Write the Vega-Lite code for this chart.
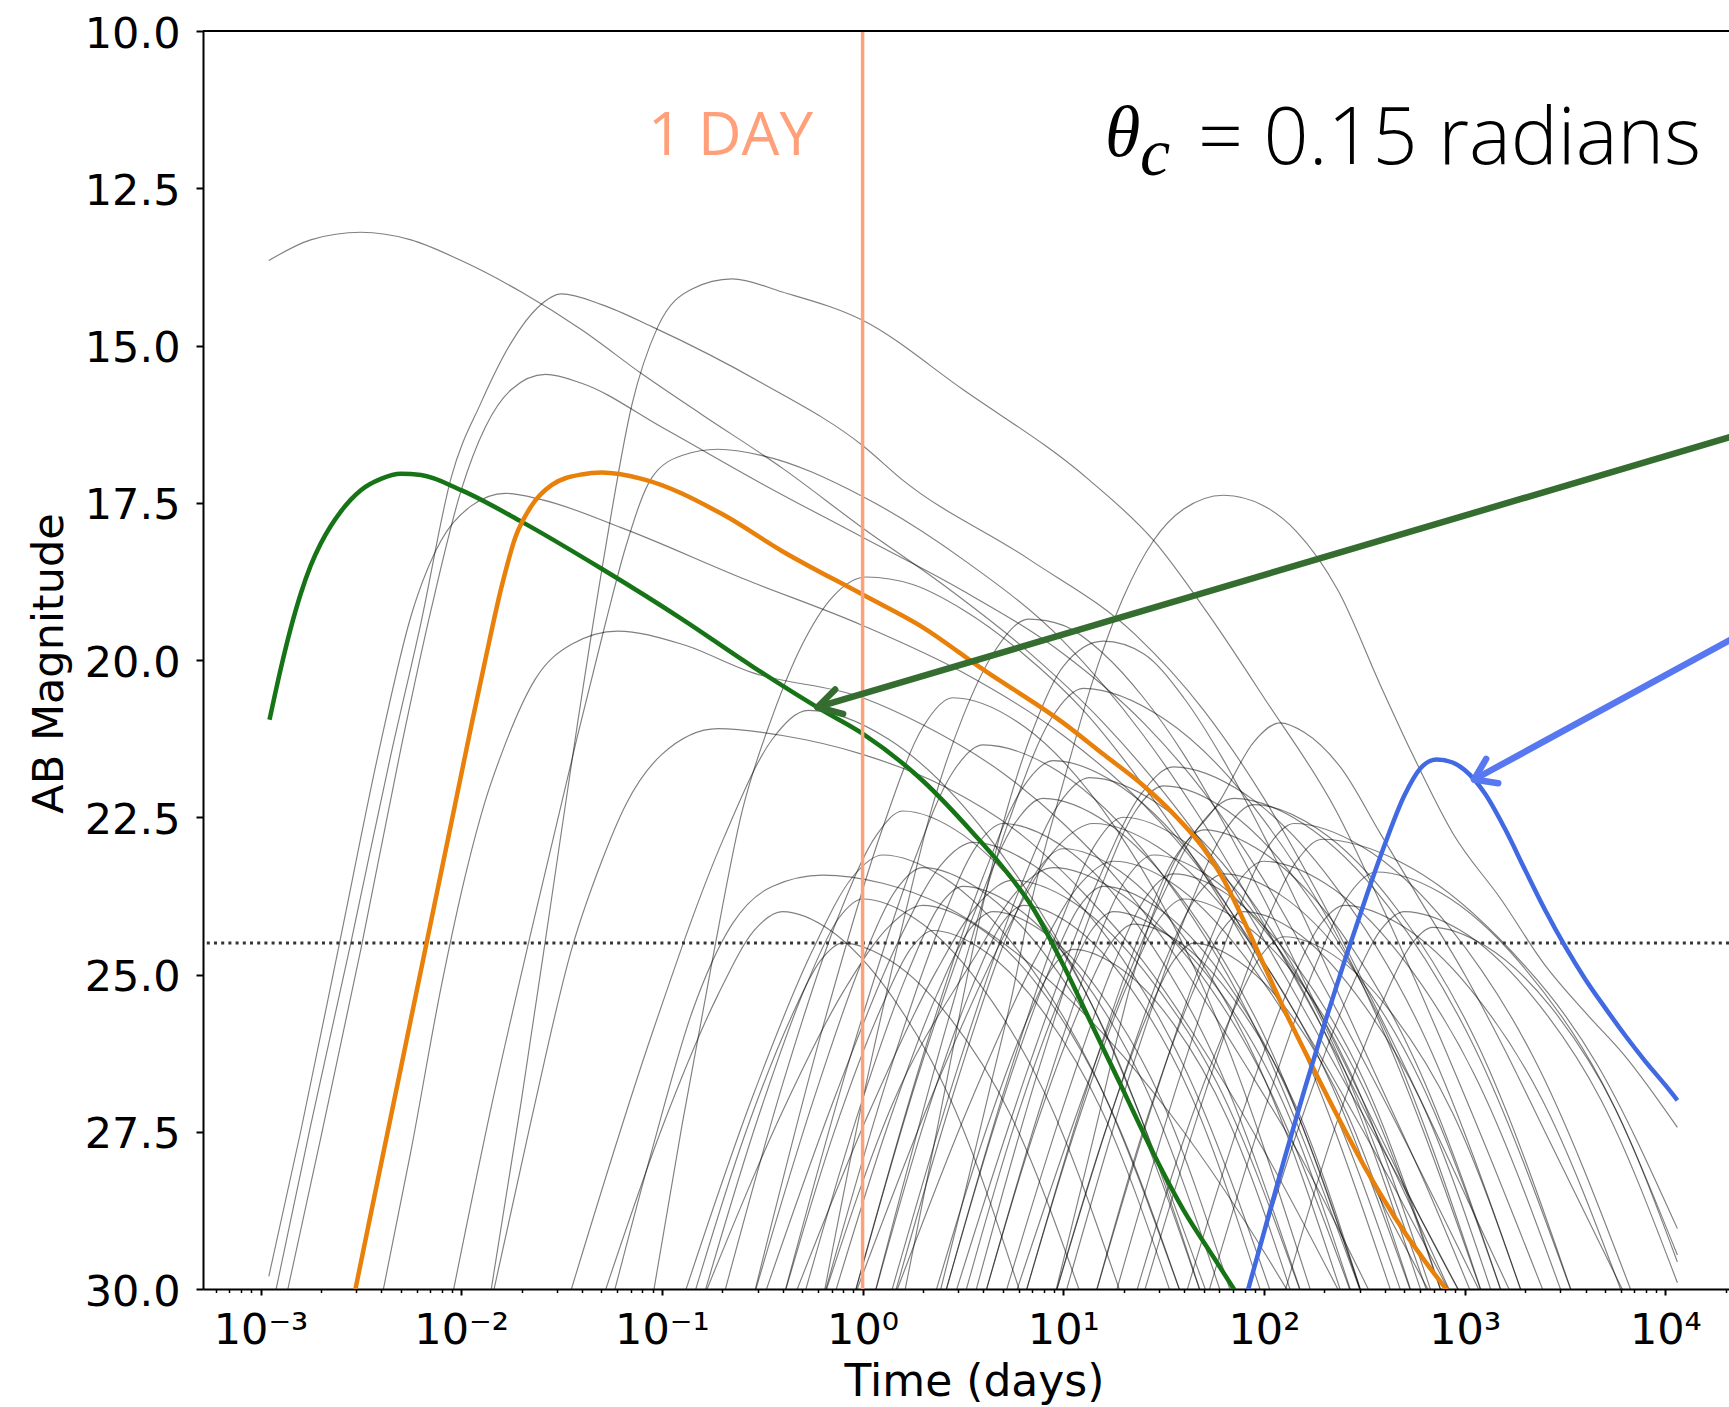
{
"$schema": "https://vega.github.io/schema/vega-lite/v6.json",
"autosize": {"type": "none"},
"padding": {"left": 203, "top": 31, "right": 0, "bottom": 118},
"width": 1526,
"height": 1258,
"background": "white",
"config": {"view": {"stroke": null}, "axis": {"grid": false}},
"datasets": {
"gray": [
{"c":"A1","t":0.0011,"m":13.65},{"c":"A1","t":0.001778,"m":13.32},{"c":"A1","t":0.003162,"m":13.2},{"c":"A1","t":0.005623,"m":13.32},{"c":"A1","t":0.01,"m":13.65},{"c":"A1","t":0.01995,"m":14.15},{"c":"A1","t":0.03981,"m":14.75},{"c":"A1","t":0.07943,"m":15.45},{"c":"A1","t":0.1585,"m":16.1},{"c":"A1","t":0.3981,"m":16.95},{"c":"A1","t":1,"m":17.9},{"c":"A1","t":2.512,"m":18.8},{"c":"A1","t":6.31,"m":19.8},{"c":"A1","t":15.85,"m":21.0},{"c":"A1","t":31.62,"m":22.1},{"c":"A1","t":63.1,"m":23.4},{"c":"A1","t":125.9,"m":25.0},{"c":"A1","t":251.2,"m":26.7},{"c":"A1","t":501.2,"m":28.4},{"c":"A1","t":1000,"m":30.2},
{"c":"A2","t":0.0138,"m":30.2},{"c":"A2","t":0.01995,"m":27.0},{"c":"A2","t":0.02818,"m":23.8},{"c":"A2","t":0.03802,"m":21.0},{"c":"A2","t":0.05248,"m":18.2},{"c":"A2","t":0.07079,"m":15.95},{"c":"A2","t":0.0955,"m":14.7},{"c":"A2","t":0.1413,"m":14.1},{"c":"A2","t":0.2239,"m":13.94},{"c":"A2","t":0.3981,"m":14.15},{"c":"A2","t":1,"m":14.6},{"c":"A2","t":3.162,"m":15.7},{"c":"A2","t":13.49,"m":17.14},{"c":"A2","t":28.18,"m":18.1},{"c":"A2","t":52.48,"m":19.26},{"c":"A2","t":100,"m":20.6},{"c":"A2","t":229.1,"m":22.4},{"c":"A2","t":398.1,"m":24.0},{"c":"A2","t":707.9,"m":25.8},{"c":"A2","t":1259,"m":27.7},{"c":"A2","t":2512,"m":30.1},
{"c":"A3","t":0.001161,"m":30.2},{"c":"A3","t":0.001778,"m":27.4},{"c":"A3","t":0.002818,"m":24.5},{"c":"A3","t":0.004467,"m":21.5},{"c":"A3","t":0.00631,"m":19.4},{"c":"A3","t":0.008913,"m":17.1},{"c":"A3","t":0.01259,"m":15.9},{"c":"A3","t":0.01778,"m":14.95},{"c":"A3","t":0.02399,"m":14.4},{"c":"A3","t":0.03162,"m":14.18},{"c":"A3","t":0.05012,"m":14.35},{"c":"A3","t":0.08913,"m":14.7},{"c":"A3","t":0.3162,"m":15.6},{"c":"A3","t":1,"m":16.59},{"c":"A3","t":1.585,"m":17.14},{"c":"A3","t":6.761,"m":18.4},{"c":"A3","t":22.91,"m":19.6},{"c":"A3","t":50.12,"m":20.8},{"c":"A3","t":100,"m":22.2},{"c":"A3","t":199.5,"m":23.9},{"c":"A3","t":398.1,"m":25.8},{"c":"A3","t":794.3,"m":27.8},{"c":"A3","t":1778,"m":30.2},
{"c":"A4","t":0.001327,"m":30.2},{"c":"A4","t":0.001995,"m":27.6},{"c":"A4","t":0.003162,"m":24.6},{"c":"A4","t":0.005012,"m":21.4},{"c":"A4","t":0.007079,"m":19.2},{"c":"A4","t":0.01,"m":17.3},{"c":"A4","t":0.01318,"m":16.3},{"c":"A4","t":0.01778,"m":15.7},{"c":"A4","t":0.0263,"m":15.46},{"c":"A4","t":0.03981,"m":15.6},{"c":"A4","t":0.1,"m":16.3},{"c":"A4","t":0.3162,"m":17.2},{"c":"A4","t":1,"m":18.05},{"c":"A4","t":3.162,"m":18.9},{"c":"A4","t":10,"m":19.9},{"c":"A4","t":25.12,"m":21.0},{"c":"A4","t":50.12,"m":22.1},{"c":"A4","t":100,"m":23.5},{"c":"A4","t":199.5,"m":25.2},{"c":"A4","t":398.1,"m":27.0},{"c":"A4","t":794.3,"m":28.9},{"c":"A4","t":1259,"m":30.2},
{"c":"A5","t":0.0011,"m":29.8},{"c":"A5","t":0.001585,"m":27.5},{"c":"A5","t":0.002512,"m":24.4},{"c":"A5","t":0.003981,"m":21.3},{"c":"A5","t":0.005623,"m":19.3},{"c":"A5","t":0.007943,"m":18.1},{"c":"A5","t":0.01122,"m":17.55},{"c":"A5","t":0.0166,"m":17.35},{"c":"A5","t":0.02512,"m":17.45},{"c":"A5","t":0.0631,"m":17.9},{"c":"A5","t":0.2512,"m":18.7},{"c":"A5","t":1,"m":19.45},{"c":"A5","t":3.162,"m":20.2},{"c":"A5","t":10,"m":21.2},{"c":"A5","t":25.12,"m":22.3},{"c":"A5","t":50.12,"m":23.4},{"c":"A5","t":100,"m":24.8},{"c":"A5","t":199.5,"m":26.4},{"c":"A5","t":398.1,"m":28.1},{"c":"A5","t":891.3,"m":30.2},
{"c":"A6","t":0.008913,"m":30.2},{"c":"A6","t":0.01413,"m":27.1},{"c":"A6","t":0.02239,"m":24.3},{"c":"A6","t":0.03802,"m":21.2},{"c":"A6","t":0.05248,"m":19.4},{"c":"A6","t":0.06607,"m":18.2},{"c":"A6","t":0.08913,"m":17.1},{"c":"A6","t":0.1259,"m":16.75},{"c":"A6","t":0.1905,"m":16.65},{"c":"A6","t":0.3162,"m":16.75},{"c":"A6","t":1,"m":17.4},{"c":"A6","t":3.162,"m":18.4},{"c":"A6","t":10,"m":19.7},{"c":"A6","t":25.12,"m":21.2},{"c":"A6","t":50.12,"m":22.6},{"c":"A6","t":100,"m":24.2},{"c":"A6","t":199.5,"m":25.9},{"c":"A6","t":398.1,"m":27.8},{"c":"A6","t":891.3,"m":30.2},
{"c":"A7","t":0.003981,"m":30.2},{"c":"A7","t":0.005623,"m":27.8},{"c":"A7","t":0.007943,"m":25.2},{"c":"A7","t":0.01072,"m":23.3},{"c":"A7","t":0.01318,"m":22.24},{"c":"A7","t":0.01585,"m":21.5},{"c":"A7","t":0.02344,"m":20.3},{"c":"A7","t":0.03548,"m":19.75},{"c":"A7","t":0.06026,"m":19.54},{"c":"A7","t":0.1259,"m":19.75},{"c":"A7","t":0.2818,"m":20.2},{"c":"A7","t":1,"m":20.6},{"c":"A7","t":1.995,"m":21.03},{"c":"A7","t":5.012,"m":21.8},{"c":"A7","t":10,"m":22.6},{"c":"A7","t":19.95,"m":23.6},{"c":"A7","t":39.81,"m":24.9},{"c":"A7","t":79.43,"m":26.4},{"c":"A7","t":158.5,"m":28.0},{"c":"A7","t":354.8,"m":30.2},
{"c":"A8","t":0.01413,"m":30.2},{"c":"A8","t":0.02239,"m":27.3},{"c":"A8","t":0.03548,"m":24.6},{"c":"A8","t":0.05012,"m":23.2},{"c":"A8","t":0.06607,"m":22.3},{"c":"A8","t":0.1,"m":21.5},{"c":"A8","t":0.1905,"m":21.09},{"c":"A8","t":0.3981,"m":21.2},{"c":"A8","t":1,"m":21.5},{"c":"A8","t":2.512,"m":22.0},{"c":"A8","t":6.31,"m":22.8},{"c":"A8","t":12.59,"m":23.7},{"c":"A8","t":25.12,"m":24.8},{"c":"A8","t":50.12,"m":26.2},{"c":"A8","t":100,"m":27.8},{"c":"A8","t":251.2,"m":30.2},
{"c":"A9","t":0.05623,"m":30.2},{"c":"A9","t":0.08913,"m":27.8},{"c":"A9","t":0.1413,"m":25.6},{"c":"A9","t":0.2239,"m":24.2},{"c":"A9","t":0.3548,"m":23.6},{"c":"A9","t":0.631,"m":23.42},{"c":"A9","t":1.259,"m":23.55},{"c":"A9","t":2.512,"m":23.9},{"c":"A9","t":5.012,"m":24.5},{"c":"A9","t":10,"m":25.3},{"c":"A9","t":19.95,"m":26.3},{"c":"A9","t":39.81,"m":27.5},{"c":"A9","t":79.43,"m":28.9},{"c":"A9","t":141.3,"m":30.2},
{"c":"A10","t":0.08913,"m":30.2},{"c":"A10","t":0.1259,"m":27.4},{"c":"A10","t":0.1778,"m":24.8},{"c":"A10","t":0.2512,"m":22.4},{"c":"A10","t":0.3548,"m":20.9},{"c":"A10","t":0.5012,"m":19.75},{"c":"A10","t":0.7079,"m":19.0},{"c":"A10","t":1.047,"m":18.68},{"c":"A10","t":1.778,"m":18.8},{"c":"A10","t":3.162,"m":19.2},{"c":"A10","t":6.31,"m":19.9},{"c":"A10","t":12.59,"m":20.8},{"c":"A10","t":25.12,"m":22.0},{"c":"A10","t":50.12,"m":23.4},{"c":"A10","t":100,"m":25.0},{"c":"A10","t":199.5,"m":26.8},{"c":"A10","t":398.1,"m":28.7},{"c":"A10","t":707.9,"m":30.2},
{"c":"A11","t":0.631,"m":30.2},{"c":"A11","t":1,"m":27.0},{"c":"A11","t":1.585,"m":24.2},{"c":"A11","t":2.239,"m":22.3},{"c":"A11","t":3.162,"m":20.9},{"c":"A11","t":4.467,"m":19.9},{"c":"A11","t":6.761,"m":19.35},{"c":"A11","t":10,"m":19.45},{"c":"A11","t":15.85,"m":19.9},{"c":"A11","t":25.12,"m":20.6},{"c":"A11","t":39.81,"m":21.5},{"c":"A11","t":63.1,"m":22.6},{"c":"A11","t":100,"m":23.8},{"c":"A11","t":158.5,"m":25.1},{"c":"A11","t":251.2,"m":26.4},{"c":"A11","t":398.1,"m":27.7},{"c":"A11","t":631,"m":29.0},{"c":"A11","t":1000,"m":30.2},
{"c":"A12","t":1.585,"m":30.2},{"c":"A12","t":2.512,"m":27.0},{"c":"A12","t":3.548,"m":24.6},{"c":"A12","t":5.012,"m":22.6},{"c":"A12","t":7.079,"m":21.1},{"c":"A12","t":10,"m":20.1},{"c":"A12","t":15.85,"m":19.7},{"c":"A12","t":25.12,"m":19.9},{"c":"A12","t":39.81,"m":20.6},{"c":"A12","t":63.1,"m":21.6},{"c":"A12","t":100,"m":22.8},{"c":"A12","t":158.5,"m":24.1},{"c":"A12","t":251.2,"m":25.5},{"c":"A12","t":398.1,"m":26.9},{"c":"A12","t":631,"m":28.3},{"c":"A12","t":1122,"m":30.2},
{"c":"A13","t":8.913,"m":30.2},{"c":"A13","t":14.13,"m":27.6},{"c":"A13","t":22.39,"m":25.0},{"c":"A13","t":34.67,"m":23.3},{"c":"A13","t":60.26,"m":22.24},{"c":"A13","t":89.13,"m":21.3},{"c":"A13","t":120.2,"m":21.0},{"c":"A13","t":158.5,"m":21.15},{"c":"A13","t":239.9,"m":21.7},{"c":"A13","t":380.2,"m":22.76},{"c":"A13","t":602.6,"m":23.83},{"c":"A13","t":1000,"m":25.0},{"c":"A13","t":1585,"m":26.2},{"c":"A13","t":2512,"m":27.5},{"c":"A13","t":3981,"m":28.8},{"c":"A13","t":6310,"m":30.1},
{"c":"AR","t":2.239,"m":30.5},{"c":"AR","t":3.162,"m":28.6},{"c":"AR","t":4.467,"m":26.6},{"c":"AR","t":5.495,"m":25.4},{"c":"AR","t":6.761,"m":24.0},{"c":"AR","t":10,"m":21.95},{"c":"AR","t":14.13,"m":20.3},{"c":"AR","t":19.95,"m":19.0},{"c":"AR","t":28.18,"m":18.1},{"c":"AR","t":39.81,"m":17.6},{"c":"AR","t":63.1,"m":17.38},{"c":"AR","t":100,"m":17.55},{"c":"AR","t":144.5,"m":17.95},{"c":"AR","t":234.4,"m":18.9},{"c":"AR","t":380.2,"m":20.4},{"c":"AR","t":549.5,"m":21.5},{"c":"AR","t":871,"m":22.75},{"c":"AR","t":1514,"m":23.8},{"c":"AR","t":2512,"m":24.85},{"c":"AR","t":3981,"m":25.6},{"c":"AR","t":6310,"m":26.3},{"c":"AR","t":11480,"m":27.43},
{"c":"E1","t":0.0339,"m":30.2},{"c":"E1","t":0.0891,"m":25.95},{"c":"E1","t":0.204,"m":22.82},{"c":"E1","t":0.355,"m":21.26},{"c":"E1","t":0.537,"m":20.8},{"c":"E1","t":1.349,"m":21.26},{"c":"E1","t":4.266,"m":22.82},{"c":"E1","t":13.49,"m":25.4},{"c":"E1","t":53.7,"m":30.2},
{"c":"D1","t":0.1585,"m":30.2},{"c":"D1","t":0.302,"m":27.27},{"c":"D1","t":0.525,"m":25.16},{"c":"D1","t":0.759,"m":24.11},{"c":"D1","t":1,"m":23.8},{"c":"D1","t":1.82,"m":24.11},{"c":"D1","t":3.85,"m":25.16},{"c":"D1","t":8.13,"m":26.9},{"c":"D1","t":19.95,"m":30.2},
{"c":"D2","t":0.282,"m":30.2},{"c":"D2","t":0.562,"m":27.05},{"c":"D2","t":1.0,"m":24.77},{"c":"D2","t":1.479,"m":23.64},{"c":"D2","t":1.995,"m":23.3},{"c":"D2","t":3.8,"m":23.64},{"c":"D2","t":8.51,"m":24.77},{"c":"D2","t":19.05,"m":26.65},{"c":"D2","t":50.1,"m":30.2},
{"c":"D3","t":0.501,"m":30.2},{"c":"D3","t":0.955,"m":27.18},{"c":"D3","t":1.66,"m":25.01},{"c":"D3","t":2.399,"m":23.92},{"c":"D3","t":3.162,"m":23.6},{"c":"D3","t":5.754,"m":23.92},{"c":"D3","t":12.16,"m":25.01},{"c":"D3","t":25.7,"m":26.8},{"c":"D3","t":63.1,"m":30.2},
{"c":"D4","t":0.398,"m":30.2},{"c":"D4","t":0.891,"m":26.19},{"c":"D4","t":1.778,"m":23.25},{"c":"D4","t":2.818,"m":21.78},{"c":"D4","t":3.981,"m":21.35},{"c":"D4","t":9.55,"m":21.78},{"c":"D4","t":28.5,"m":23.25},{"c":"D4","t":85.1,"m":25.68},{"c":"D4","t":316,"m":30.2},
{"c":"D5","t":0.631,"m":30.2},{"c":"D5","t":1.303,"m":26.74},{"c":"D5","t":2.427,"m":24.23},{"c":"D5","t":3.673,"m":22.97},{"c":"D5","t":5.012,"m":22.6},{"c":"D5","t":10.0,"m":22.97},{"c":"D5","t":23.7,"m":24.23},{"c":"D5","t":56.2,"m":26.3},{"c":"D5","t":158.5,"m":30.2},
{"c":"D6","t":1.122,"m":30.2},{"c":"D6","t":2.042,"m":27.32},{"c":"D6","t":3.467,"m":25.24},{"c":"D6","t":4.898,"m":24.21},{"c":"D6","t":6.31,"m":23.9},{"c":"D6","t":10.96,"m":24.21},{"c":"D6","t":21.9,"m":25.24},{"c":"D6","t":43.7,"m":26.95},{"c":"D6","t":100,"m":30.2},
{"c":"D7","t":0.891,"m":30.2},{"c":"D7","t":1.905,"m":26.57},{"c":"D7","t":3.715,"m":23.92},{"c":"D7","t":5.754,"m":22.59},{"c":"D7","t":7.943,"m":22.2},{"c":"D7","t":16.6,"m":22.59},{"c":"D7","t":41.7,"m":23.92},{"c":"D7","t":104.7,"m":26.1},{"c":"D7","t":316,"m":30.2},
{"c":"D8","t":1.413,"m":30.2},{"c":"D8","t":2.818,"m":26.92},{"c":"D8","t":5.012,"m":24.54},{"c":"D8","t":7.413,"m":23.35},{"c":"D8","t":10,"m":23.0},{"c":"D8","t":19.05,"m":23.35},{"c":"D8","t":42.7,"m":24.54},{"c":"D8","t":95.5,"m":26.5},{"c":"D8","t":251,"m":30.2},
{"c":"D9","t":1.122,"m":30.2},{"c":"D9","t":2.63,"m":25.8},{"c":"D9","t":5.37,"m":22.55},{"c":"D9","t":8.71,"m":20.93},{"c":"D9","t":12.59,"m":20.45},{"c":"D9","t":31.6,"m":20.93},{"c":"D9","t":100,"m":22.55},{"c":"D9","t":316,"m":25.23},{"c":"D9","t":1259,"m":30.2},
{"c":"D10","t":1.349,"m":30.2},{"c":"D10","t":3.02,"m":26.42},{"c":"D10","t":6.026,"m":23.66},{"c":"D10","t":9.55,"m":22.28},{"c":"D10","t":13.49,"m":21.87},{"c":"D10","t":29.5,"m":22.28},{"c":"D10","t":79.4,"m":23.66},{"c":"D10","t":208.9,"m":25.94},{"c":"D10","t":676,"m":30.2},
{"c":"D11","t":2.512,"m":30.2},{"c":"D11","t":4.786,"m":27.18},{"c":"D11","t":8.318,"m":25.01},{"c":"D11","t":12.02,"m":23.92},{"c":"D11","t":15.85,"m":23.6},{"c":"D11","t":28.84,"m":23.92},{"c":"D11","t":61.7,"m":25.01},{"c":"D11","t":128.8,"m":26.8},{"c":"D11","t":316,"m":30.2},
{"c":"D12","t":2.512,"m":30.2},{"c":"D12","t":5.248,"m":26.7},{"c":"D12","t":9.772,"m":24.15},{"c":"D12","t":14.79,"m":22.88},{"c":"D12","t":19.95,"m":22.5},{"c":"D12","t":39.8,"m":22.88},{"c":"D12","t":95.5,"m":24.15},{"c":"D12","t":223.9,"m":26.25},{"c":"D12","t":631,"m":30.2},
{"c":"D13","t":3.981,"m":30.2},{"c":"D13","t":7.244,"m":27.45},{"c":"D13","t":12.3,"m":25.48},{"c":"D13","t":17.38,"m":24.49},{"c":"D13","t":22.39,"m":24.2},{"c":"D13","t":38.0,"m":24.49},{"c":"D13","t":74.1,"m":25.48},{"c":"D13","t":144.5,"m":27.1},{"c":"D13","t":316,"m":30.2},
{"c":"D14","t":3.981,"m":30.2},{"c":"D14","t":7.943,"m":26.96},{"c":"D14","t":14.13,"m":24.62},{"c":"D14","t":20.9,"m":23.45},{"c":"D14","t":28.2,"m":23.1},{"c":"D14","t":53.7,"m":23.45},{"c":"D14","t":120.2,"m":24.62},{"c":"D14","t":269.2,"m":26.55},{"c":"D14","t":708,"m":30.2},
{"c":"D15","t":3.548,"m":30.2},{"c":"D15","t":7.586,"m":26.48},{"c":"D15","t":14.79,"m":23.76},{"c":"D15","t":22.9,"m":22.4},{"c":"D15","t":31.6,"m":22.0},{"c":"D15","t":66.1,"m":22.4},{"c":"D15","t":166,"m":23.76},{"c":"D15","t":417,"m":26.0},{"c":"D15","t":1259,"m":30.2},
{"c":"D16","t":6.31,"m":30.2},{"c":"D16","t":12.02,"m":27.27},{"c":"D16","t":20.9,"m":25.16},{"c":"D16","t":30.2,"m":24.11},{"c":"D16","t":39.8,"m":23.8},{"c":"D16","t":72.4,"m":24.11},{"c":"D16","t":154.9,"m":25.16},{"c":"D16","t":323.6,"m":26.9},{"c":"D16","t":794,"m":30.2},
{"c":"D17","t":6.31,"m":30.2},{"c":"D17","t":13.18,"m":26.79},{"c":"D17","t":24.5,"m":24.31},{"c":"D17","t":37.2,"m":23.07},{"c":"D17","t":50.1,"m":22.7},{"c":"D17","t":100,"m":23.07},{"c":"D17","t":239.9,"m":24.31},{"c":"D17","t":562,"m":26.35},{"c":"D17","t":1585,"m":30.2},
{"c":"D18","t":8.913,"m":30.2},{"c":"D18","t":17.78,"m":27.1},{"c":"D18","t":31.6,"m":24.85},{"c":"D18","t":46.8,"m":23.73},{"c":"D18","t":63.1,"m":23.4},{"c":"D18","t":120.2,"m":23.73},{"c":"D18","t":269.2,"m":24.85},{"c":"D18","t":602.6,"m":26.7},{"c":"D18","t":1585,"m":30.2},
{"c":"D19","t":14.13,"m":30.2},{"c":"D19","t":25.7,"m":27.36},{"c":"D19","t":43.65,"m":25.32},{"c":"D19","t":61.7,"m":24.3},{"c":"D19","t":79.4,"m":24.0},{"c":"D19","t":141.3,"m":24.3},{"c":"D19","t":288.4,"m":25.32},{"c":"D19","t":602.6,"m":27.0},{"c":"D19","t":1413,"m":30.2},
{"c":"D20","t":14.13,"m":30.2},{"c":"D20","t":28.18,"m":27.01},{"c":"D20","t":50.1,"m":24.7},{"c":"D20","t":74.1,"m":23.54},{"c":"D20","t":100,"m":23.2},{"c":"D20","t":199.5,"m":23.54},{"c":"D20","t":478.6,"m":24.7},{"c":"D20","t":1122,"m":26.6},{"c":"D20","t":3162,"m":30.2},
{"c":"D21","t":17.78,"m":30.2},{"c":"D21","t":37.15,"m":26.74},{"c":"D21","t":69.2,"m":24.23},{"c":"D21","t":104.7,"m":22.97},{"c":"D21","t":141.3,"m":22.6},{"c":"D21","t":309,"m":22.97},{"c":"D21","t":831.8,"m":24.23},{"c":"D21","t":2188,"m":26.3},{"c":"D21","t":7079,"m":30.2},
{"c":"D22","t":24.5,"m":30.2},{"c":"D22","t":51.3,"m":26.85},{"c":"D22","t":95.5,"m":24.42},{"c":"D22","t":144.5,"m":23.21},{"c":"D22","t":195,"m":22.85},{"c":"D22","t":478.6,"m":23.21},{"c":"D22","t":1479,"m":24.42},{"c":"D22","t":4571,"m":26.43},{"c":"D22","t":11480,"m":29.04},
{"c":"D23","t":39.8,"m":30.2},{"c":"D23","t":75.9,"m":27.32},{"c":"D23","t":131.8,"m":25.24},{"c":"D23","t":190.5,"m":24.21},{"c":"D23","t":251.2,"m":23.9},{"c":"D23","t":478.6,"m":24.21},{"c":"D23","t":1072,"m":25.24},{"c":"D23","t":2399,"m":26.95},{"c":"D23","t":6310,"m":30.2},
{"c":"D24","t":51.3,"m":30.2},{"c":"D24","t":102.3,"m":27.08},{"c":"D24","t":182,"m":24.83},{"c":"D24","t":269.2,"m":23.7},{"c":"D24","t":363,"m":23.37},{"c":"D24","t":758.6,"m":23.7},{"c":"D24","t":1905,"m":24.83},{"c":"D24","t":4786,"m":26.69},{"c":"D24","t":11480,"m":29.46},
{"c":"D25","t":79.4,"m":30.2},{"c":"D25","t":151.4,"m":27.36},{"c":"D25","t":263,"m":25.32},{"c":"D25","t":380.2,"m":24.3},{"c":"D25","t":501,"m":24.0},{"c":"D25","t":955,"m":24.3},{"c":"D25","t":2138,"m":25.32},{"c":"D25","t":4786,"m":27.0},{"c":"D25","t":11480,"m":29.9},
{"c":"D26","t":123,"m":30.2},{"c":"D26","t":223.9,"m":27.47},{"c":"D26","t":380.2,"m":25.52},{"c":"D26","t":537,"m":24.54},{"c":"D26","t":691.8,"m":24.25},{"c":"D26","t":1259,"m":24.54},{"c":"D26","t":2692,"m":25.52},{"c":"D26","t":5623,"m":27.13},{"c":"D26","t":11480,"m":29.57},
{"c":"D27","t":0.282,"m":30.2},{"c":"D27","t":0.631,"m":25.86},{"c":"D27","t":1.259,"m":22.67},{"c":"D27","t":1.995,"m":21.07},{"c":"D27","t":2.818,"m":20.6},{"c":"D27","t":6.457,"m":21.07},{"c":"D27","t":18.2,"m":22.67},{"c":"D27","t":51.3,"m":25.3},{"c":"D27","t":177.8,"m":30.2},
{"c":"D28","t":0.1995,"m":30.2},{"c":"D28","t":0.407,"m":26.66},{"c":"D28","t":0.759,"m":24.07},{"c":"D28","t":1.175,"m":22.78},{"c":"D28","t":1.585,"m":22.4},{"c":"D28","t":3.162,"m":22.78},{"c":"D28","t":7.586,"m":24.07},{"c":"D28","t":17.78,"m":26.2},{"c":"D28","t":50.1,"m":30.2},
{"c":"D30","t":2.239,"m":30.2},{"c":"D30","t":3.981,"m":27.62},{"c":"D30","t":6.457,"m":25.79},{"c":"D30","t":8.913,"m":24.87},{"c":"D30","t":11.22,"m":24.6},{"c":"D30","t":18.62,"m":24.87},{"c":"D30","t":35.48,"m":25.79},{"c":"D30","t":66.1,"m":27.3},{"c":"D30","t":141.3,"m":30.2},
{"c":"D31","t":8.913,"m":30.2},{"c":"D31","t":15.85,"m":27.58},{"c":"D31","t":25.7,"m":25.71},{"c":"D31","t":35.48,"m":24.78},{"c":"D31","t":44.67,"m":24.5},{"c":"D31","t":74.1,"m":24.78},{"c":"D31","t":141.3,"m":25.71},{"c":"D31","t":263,"m":27.25},{"c":"D31","t":562,"m":30.2},
{"c":"D32","t":0.891,"m":30.2},{"c":"D32","t":1.995,"m":26.3},{"c":"D32","t":3.981,"m":23.45},{"c":"D32","t":6.31,"m":22.02},{"c":"D32","t":8.913,"m":21.6},{"c":"D32","t":19.5,"m":22.02},{"c":"D32","t":52.5,"m":23.45},{"c":"D32","t":138,"m":25.8},{"c":"D32","t":446.7,"m":30.2},
{"c":"D33","t":22.39,"m":30.2},{"c":"D33","t":40.7,"m":27.54},{"c":"D33","t":69.2,"m":25.63},{"c":"D33","t":97.7,"m":24.68},{"c":"D33","t":125.9,"m":24.4},{"c":"D33","t":218.8,"m":24.68},{"c":"D33","t":436.5,"m":25.63},{"c":"D33","t":871,"m":27.2},{"c":"D33","t":1995,"m":30.2},
{"c":"D34","t":0.398,"m":30.2},{"c":"D34","t":0.724,"m":27.49},{"c":"D34","t":1.23,"m":25.55},{"c":"D34","t":1.738,"m":24.59},{"c":"D34","t":2.239,"m":24.3},{"c":"D34","t":3.89,"m":24.59},{"c":"D34","t":7.762,"m":25.55},{"c":"D34","t":15.49,"m":27.15},{"c":"D34","t":35.48,"m":30.2},
{"c":"D36","t":3.162,"m":30.2},{"c":"D36","t":5.754,"m":27.36},{"c":"D36","t":9.772,"m":25.32},{"c":"D36","t":13.8,"m":24.3},{"c":"D36","t":17.78,"m":24.0},{"c":"D36","t":30.9,"m":24.3},{"c":"D36","t":61.7,"m":25.32},{"c":"D36","t":123,"m":27.0},{"c":"D36","t":281.8,"m":30.2},
{"c":"D37","t":0.708,"m":30.2},{"c":"D37","t":1.349,"m":27.36},{"c":"D37","t":2.344,"m":25.32},{"c":"D37","t":3.388,"m":24.3},{"c":"D37","t":4.467,"m":24.0},{"c":"D37","t":7.762,"m":24.3},{"c":"D37","t":15.49,"m":25.32},{"c":"D37","t":30.9,"m":27.0},{"c":"D37","t":70.8,"m":30.2},
{"c":"D38","t":5.012,"m":30.2},{"c":"D38","t":10,"m":27.1},{"c":"D38","t":17.78,"m":24.85},{"c":"D38","t":26.3,"m":23.73},{"c":"D38","t":35.48,"m":23.4},{"c":"D38","t":66.1,"m":23.73},{"c":"D38","t":144.5,"m":24.85},{"c":"D38","t":316.2,"m":26.7},{"c":"D38","t":794.3,"m":30.2},
{"c":"D39","t":10,"m":30.2},{"c":"D39","t":21.38,"m":26.61},{"c":"D39","t":41.7,"m":23.99},{"c":"D39","t":64.6,"m":22.69},{"c":"D39","t":89.1,"m":22.3},{"c":"D39","t":186.2,"m":22.69},{"c":"D39","t":467.7,"m":23.99},{"c":"D39","t":1175,"m":26.15},{"c":"D39","t":3548,"m":30.2},
{"c":"D40","t":0.1413,"m":30.2},{"c":"D40","t":0.257,"m":27.58},{"c":"D40","t":0.4365,"m":25.71},{"c":"D40","t":0.6166,"m":24.78},{"c":"D40","t":0.7943,"m":24.5},{"c":"D40","t":1.38,"m":24.78},{"c":"D40","t":2.754,"m":25.71},{"c":"D40","t":5.495,"m":27.25},{"c":"D40","t":12.59,"m":30.2},
{"c":"F1","t":0.1259,"m":30.2},{"c":"F1","t":0.2818,"m":26.96},{"c":"F1","t":0.5623,"m":24.62},{"c":"F1","t":0.8913,"m":23.45},{"c":"F1","t":1.259,"m":23.1},{"c":"F1","t":2.512,"m":23.45},{"c":"F1","t":5.957,"m":24.62},{"c":"F1","t":14.13,"m":26.55},{"c":"F1","t":39.81,"m":30.2},
{"c":"F2","t":0.3162,"m":30.2},{"c":"F2","t":0.7413,"m":26.88},{"c":"F2","t":1.514,"m":24.46},{"c":"F2","t":2.455,"m":23.26},{"c":"F2","t":3.548,"m":22.9},{"c":"F2","t":7.079,"m":23.26},{"c":"F2","t":16.98,"m":24.46},{"c":"F2","t":39.81,"m":26.45},{"c":"F2","t":112.2,"m":30.2},
{"c":"F3","t":0.4467,"m":30.2},{"c":"F3","t":1.096,"m":27.14},{"c":"F3","t":2.344,"m":24.93},{"c":"F3","t":3.89,"m":23.83},{"c":"F3","t":5.623,"m":23.5},{"c":"F3","t":10.96,"m":23.83},{"c":"F3","t":25.12,"m":24.93},{"c":"F3","t":58.88,"m":26.75},{"c":"F3","t":158.5,"m":30.2},
{"c":"F4","t":0.631,"m":30.2},{"c":"F4","t":1.413,"m":27.05},{"c":"F4","t":3.548,"m":24.77},{"c":"F4","t":6.026,"m":23.64},{"c":"F4","t":8.913,"m":23.3},{"c":"F4","t":17.78,"m":23.64},{"c":"F4","t":42.66,"m":24.77},{"c":"F4","t":100,"m":26.65},{"c":"F4","t":281.8,"m":30.2},
{"c":"F5","t":0.8913,"m":30.2},{"c":"F5","t":2.344,"m":26.74},{"c":"F5","t":5.37,"m":24.23},{"c":"F5","t":9.333,"m":22.97},{"c":"F5","t":14.13,"m":22.6},{"c":"F5","t":29.51,"m":22.97},{"c":"F5","t":74.13,"m":24.23},{"c":"F5","t":186.2,"m":26.3},{"c":"F5","t":562.3,"m":30.2},
{"c":"F6","t":1.413,"m":30.2},{"c":"F6","t":3.467,"m":27.01},{"c":"F6","t":7.413,"m":24.7},{"c":"F6","t":12.3,"m":23.54},{"c":"F6","t":17.78,"m":23.2},{"c":"F6","t":34.67,"m":23.54},{"c":"F6","t":79.43,"m":24.7},{"c":"F6","t":186.2,"m":26.6},{"c":"F6","t":501.2,"m":30.2},
{"c":"F7","t":0.1585,"m":30.2},{"c":"F7","t":0.3802,"m":27.32},{"c":"F7","t":0.8128,"m":25.24},{"c":"F7","t":1.38,"m":24.21},{"c":"F7","t":1.995,"m":23.9},{"c":"F7","t":3.631,"m":24.21},{"c":"F7","t":7.762,"m":25.24},{"c":"F7","t":16.22,"m":26.95},{"c":"F7","t":39.81,"m":30.2},
{"c":"F8","t":2.818,"m":30.2},{"c":"F8","t":6.918,"m":26.35},{"c":"F8","t":14.79,"m":23.53},{"c":"F8","t":24.55,"m":22.12},{"c":"F8","t":35.48,"m":21.7},{"c":"F8","t":79.43,"m":22.12},{"c":"F8","t":218.8,"m":23.53},{"c":"F8","t":602.6,"m":25.85},{"c":"F8","t":1995,"m":30.2},
{"c":"F9","t":0.05012,"m":30.2},{"c":"F9","t":0.1023,"m":27.36},{"c":"F9","t":0.1905,"m":25.32},{"c":"F9","t":0.2884,"m":24.3},{"c":"F9","t":0.3981,"m":24.0},{"c":"F9","t":0.6918,"m":24.3},{"c":"F9","t":1.38,"m":25.32},{"c":"F9","t":2.754,"m":27.0},{"c":"F9","t":6.31,"m":30.2},
{"c":"F10","t":5.623,"m":30.2},{"c":"F10","t":13.8,"m":26.57},{"c":"F10","t":29.51,"m":23.92},{"c":"F10","t":48.98,"m":22.59},{"c":"F10","t":70.79,"m":22.2},{"c":"F10","t":154.9,"m":22.59},{"c":"F10","t":416.9,"m":23.92},{"c":"F10","t":1096,"m":26.1},{"c":"F10","t":3548,"m":30.2}
],
"hl": [
{"c":"green","t":0.001109,"m":20.95},{"c":"green","t":0.001259,"m":20.15},{"c":"green","t":0.001413,"m":19.5},{"c":"green","t":0.001585,"m":18.95},{"c":"green","t":0.001778,"m":18.5},{"c":"green","t":0.001995,"m":18.15},{"c":"green","t":0.002239,"m":17.87},{"c":"green","t":0.002512,"m":17.64},{"c":"green","t":0.002818,"m":17.45},{"c":"green","t":0.003162,"m":17.3},{"c":"green","t":0.003981,"m":17.12},{"c":"green","t":0.005012,"m":17.04},{"c":"green","t":0.00631,"m":17.06},{"c":"green","t":0.01,"m":17.3},{"c":"green","t":0.01995,"m":17.8},{"c":"green","t":0.05012,"m":18.55},{"c":"green","t":0.1259,"m":19.35},{"c":"green","t":0.2818,"m":20.1},{"c":"green","t":0.631,"m":20.8},{"c":"green","t":1,"m":21.17},{"c":"green","t":1.995,"m":21.92},{"c":"green","t":3.548,"m":22.75},{"c":"green","t":5.012,"m":23.3},{"c":"green","t":7.079,"m":23.95},{"c":"green","t":10,"m":24.85},{"c":"green","t":14.13,"m":25.85},{"c":"green","t":19.95,"m":26.85},{"c":"green","t":28.18,"m":27.85},{"c":"green","t":39.81,"m":28.75},{"c":"green","t":56.23,"m":29.5},{"c":"green","t":74.13,"m":30.1},
{"c":"orange","t":0.002951,"m":30.05},{"c":"orange","t":0.003548,"m":28.8},{"c":"orange","t":0.004467,"m":27.25},{"c":"orange","t":0.005623,"m":25.7},{"c":"orange","t":0.007079,"m":24.15},{"c":"orange","t":0.008913,"m":22.6},{"c":"orange","t":0.01122,"m":21.05},{"c":"orange","t":0.01318,"m":20.0},{"c":"orange","t":0.01585,"m":18.85},{"c":"orange","t":0.01862,"m":18.05},{"c":"orange","t":0.02239,"m":17.55},{"c":"orange","t":0.02818,"m":17.22},{"c":"orange","t":0.03981,"m":17.05},{"c":"orange","t":0.05012,"m":17.02},{"c":"orange","t":0.07943,"m":17.12},{"c":"orange","t":0.1995,"m":17.68},{"c":"orange","t":0.3981,"m":18.27},{"c":"orange","t":1,"m":18.96},{"c":"orange","t":1.995,"m":19.48},{"c":"orange","t":3.981,"m":20.15},{"c":"orange","t":10,"m":21.0},{"c":"orange","t":15.85,"m":21.5},{"c":"orange","t":25.12,"m":22.0},{"c":"orange","t":35.48,"m":22.45},{"c":"orange","t":50.12,"m":23.0},{"c":"orange","t":63.1,"m":23.5},{"c":"orange","t":79.43,"m":24.15},{"c":"orange","t":100,"m":24.85},{"c":"orange","t":125.9,"m":25.55},{"c":"orange","t":158.5,"m":26.2},{"c":"orange","t":223.9,"m":27.15},{"c":"orange","t":316.2,"m":28.05},{"c":"orange","t":446.7,"m":28.85},{"c":"orange","t":631,"m":29.55},{"c":"orange","t":831.8,"m":30.05},
{"c":"blue","t":83.18,"m":30.02},{"c":"blue","t":100,"m":29.1},{"c":"blue","t":125.9,"m":27.95},{"c":"blue","t":158.5,"m":26.85},{"c":"blue","t":199.5,"m":25.8},{"c":"blue","t":251.2,"m":24.8},{"c":"blue","t":316.2,"m":23.85},{"c":"blue","t":398.1,"m":22.95},{"c":"blue","t":501.2,"m":22.15},{"c":"blue","t":602.6,"m":21.72},{"c":"blue","t":724.4,"m":21.58},{"c":"blue","t":871,"m":21.63},{"c":"blue","t":1000,"m":21.75},{"c":"blue","t":1259,"m":22.12},{"c":"blue","t":1585,"m":22.68},{"c":"blue","t":1995,"m":23.33},{"c":"blue","t":2512,"m":23.97},{"c":"blue","t":3162,"m":24.55},{"c":"blue","t":3981,"m":25.07},{"c":"blue","t":5012,"m":25.53},{"c":"blue","t":6310,"m":25.97},{"c":"blue","t":7943,"m":26.38},{"c":"blue","t":10000,"m":26.76},{"c":"blue","t":11480,"m":27.0}
],
"arrows": [
{"a":"garrow","s":"g1","o":1,"t":20750,"m":16.46},{"a":"garrow","s":"g1","o":2,"t":0.5953,"m":20.751},
{"a":"garrow","s":"g2","o":1,"t":0.73,"m":20.47},{"a":"garrow","s":"g2","o":2,"t":0.5953,"m":20.751},{"a":"garrow","s":"g2","o":3,"t":0.7995,"m":20.856},
{"a":"barrow","s":"b1","o":1,"t":20750,"m":19.69},{"a":"barrow","s":"b1","o":2,"t":1114,"m":21.9},
{"a":"barrow","s":"b2","o":1,"t":1279,"m":21.572},{"a":"barrow","s":"b2","o":2,"t":1114,"m":21.9},{"a":"barrow","s":"b2","o":3,"t":1469,"m":21.96}
]
},
"resolve": {"scale": {"x": "shared", "y": "shared"}, "axis": {"x": "independent"}},
"layer": [
{
"data": {"name": "gray"},
"mark": {"type": "line", "interpolate": "monotone", "clip": true, "stroke": "#000000", "strokeOpacity": 0.5, "strokeWidth": 1.15},
"encoding": {
"x": {"field": "t", "type": "quantitative",
"scale": {"type": "log", "domain": [0.000517, 20750], "nice": false},
"axis": {"orient": "bottom", "title": "Time (days)", "values": [0.001, 0.01, 0.1, 1, 10, 100, 1000, 10000],
"labelExpr": "'10' + ['⁻³','⁻²','⁻¹','⁰','¹','²','³','⁴'][round(log(datum.value)/LN10)+3]",
"labelFont": "DejaVu Sans", "labelFontSize": 43, "labelColor": "#000000", "labelPadding": 14, "labelOverlap": false, "labelFlush": false,
"tickSize": 6, "tickWidth": 2, "tickColor": "#000000", "domainColor": "#000000", "domainWidth": 2,
"titleFont": "DejaVu Sans", "titleFontSize": 44, "titleFontWeight": "normal", "titleColor": "#000000",
"titleX": 771, "titleY": 106, "titleBaseline": "alphabetic", "titleAlign": "center", "grid": false}},
"y": {"field": "m", "type": "quantitative",
"scale": {"domain": [10, 30], "reverse": true, "nice": false, "zero": false},
"axis": {"title": "AB Magnitude", "values": [10, 12.5, 15, 17.5, 20, 22.5, 25, 27.5, 30], "format": ".1f",
"labelFont": "DejaVu Sans", "labelFontSize": 43, "labelColor": "#000000", "labelPadding": 16, "labelOffset": 3, "labelOverlap": false, "labelFlush": false,
"tickSize": 7, "tickWidth": 2, "tickColor": "#000000", "domainColor": "#000000", "domainWidth": 2,
"titleFont": "DejaVu Sans", "titleFontSize": 43, "titleFontWeight": "normal", "titleColor": "#000000",
"titleX": -141, "titleY": 632, "titleBaseline": "alphabetic", "titleAlign": "center", "titleAngle": 270, "grid": false}},
"detail": {"field": "c", "type": "nominal"}
}
},
{
"data": {"values": [{"v": 24.5}]},
"mark": {"type": "rule", "stroke": "#333333", "strokeWidth": 3, "strokeDash": [3, 4.2]},
"encoding": {"y": {"field": "v", "type": "quantitative"}}
},
{
"data": {"name": "hl"},
"mark": {"type": "line", "interpolate": "monotone", "clip": true, "strokeWidth": 4.5},
"encoding": {
"x": {"field": "t", "type": "quantitative",
"axis": {"orient": "bottom", "title": null, "labels": false, "domain": false, "grid": false,
"values": [0.0006,0.0007,0.0008,0.0009,0.002,0.003,0.004,0.005,0.006,0.007,0.008,0.009,0.02,0.03,0.04,0.05,0.06,0.07,0.08,0.09,0.2,0.3,0.4,0.5,0.6,0.7,0.8,0.9,2,3,4,5,6,7,8,9,20,30,40,50,60,70,80,90,200,300,400,500,600,700,800,900,2000,3000,4000,5000,6000,7000,8000,9000,20000],
"tickSize": 3.5, "tickWidth": 1.5, "tickColor": "#000000"}},
"y": {"field": "m", "type": "quantitative"},
"color": {"field": "c", "type": "nominal", "legend": null,
"scale": {"domain": ["green", "orange", "blue"], "range": ["#167416", "#e8800a", "#4169e1"]}}
}
},
{
"data": {"values": [{"d": 1}]},
"mark": {"type": "rule", "stroke": "#ffa07a", "strokeWidth": 3.5},
"encoding": {"x": {"field": "d", "type": "quantitative", "axis": null}}
},
{
"data": {"values": [{"v": 10}]},
"mark": {"type": "rule", "stroke": "#000000", "strokeWidth": 2},
"encoding": {"y": {"field": "v", "type": "quantitative"}}
},
{
"data": {"name": "arrows"},
"transform": [{"filter": "datum.a === 'garrow'"}],
"mark": {"type": "line", "stroke": "#356d31", "strokeWidth": 6.5, "strokeCap": "round", "strokeJoin": "round"},
"encoding": {
"x": {"field": "t", "type": "quantitative", "axis": null},
"y": {"field": "m", "type": "quantitative"},
"detail": {"field": "s", "type": "nominal"},
"order": {"field": "o", "type": "quantitative"}
}
},
{
"data": {"name": "arrows"},
"transform": [{"filter": "datum.a === 'barrow'"}],
"mark": {"type": "line", "stroke": "#5878f2", "strokeWidth": 6.5, "strokeCap": "round", "strokeJoin": "round"},
"encoding": {
"x": {"field": "t", "type": "quantitative", "axis": null},
"y": {"field": "m", "type": "quantitative"},
"detail": {"field": "s", "type": "nominal"},
"order": {"field": "o", "type": "quantitative"}
}
},
{
"data": {"values": [{"t": 0.2198, "m": 11.979, "label": "1 DAY"}]},
"mark": {"type": "text", "font": "Open Sans", "fontWeight": 400, "fontSize": 60, "fill": "#ffa07a", "align": "center", "baseline": "alphabetic"},
"encoding": {"x": {"field": "t", "type": "quantitative", "axis": null}, "y": {"field": "m", "type": "quantitative"}, "text": {"field": "label"}}
},
{
"data": {"values": [{"t": 16.14, "m": 11.995, "label": "θ"}]},
"mark": {"type": "text", "font": "Liberation Serif", "fontStyle": "italic", "fontWeight": "normal", "fontSize": 72, "fill": "#000000", "align": "left", "baseline": "alphabetic"},
"encoding": {"x": {"field": "t", "type": "quantitative", "axis": null}, "y": {"field": "m", "type": "quantitative"}, "text": {"field": "label"}}
},
{
"data": {"values": [{"t": 24.11, "m": 12.297, "label": "c"}]},
"mark": {"type": "text", "font": "Liberation Serif", "fontStyle": "italic", "fontWeight": "normal", "fontSize": 68, "fill": "#000000", "align": "left", "baseline": "alphabetic"},
"encoding": {"x": {"field": "t", "type": "quantitative", "axis": null}, "y": {"field": "m", "type": "quantitative"}, "text": {"field": "label"}}
},
{
"data": {"values": [{"t": 46.9, "m": 12.122, "label": "= 0.15 radians"}]},
"mark": {"type": "text", "font": "Open Sans", "fontWeight": 300, "fontSize": 79, "fill": "#000000", "align": "left", "baseline": "alphabetic"},
"encoding": {"x": {"field": "t", "type": "quantitative", "axis": null}, "y": {"field": "m", "type": "quantitative"}, "text": {"field": "label"}}
}
]
}
